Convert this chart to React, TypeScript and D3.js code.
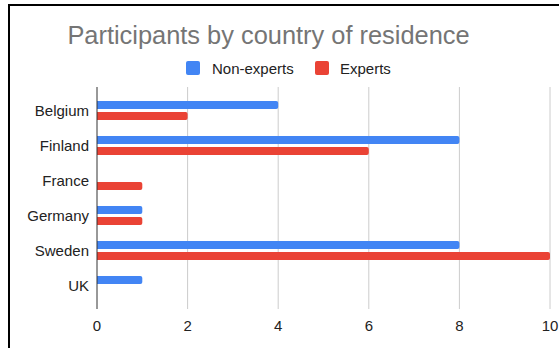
import React from "react";
import * as d3 from "d3";

const countries = ["Belgium", "Finland", "France", "Germany", "Sweden", "UK"];
const nonExperts = [4, 8, 0, 1, 8, 1];
const experts = [2, 6, 1, 1, 10, 0];
const xTicks = [0, 2, 4, 6, 8, 10];
const seriesNames = ["Non-experts", "Experts"];
const seriesColors = ["#4285F4", "#EA4335"];
const title = "Participants by country of residence";

const W = 559;
const H = 348;
const FONT = "Arial, 'Liberation Sans', sans-serif";

export default function App() {
  const x = d3.scaleLinear().domain([0, 10]).range([97, 550]);
  const y = d3.scaleBand<string>().domain(countries).range([93, 303]).paddingInner(0).paddingOuter(0);
  const gridTop = 87;
  const gridBottom = 309;
  const barH = 8;
  const gap = 3;

  const bar = (v: number, yTop: number, color: string, key: string) => {
    if (v <= 0) return null;
    const w = x(v) - x(0);
    const r = 2;
    const x0 = x(0);
    const path = `M${x0},${yTop} H${x0 + w - r} Q${x0 + w},${yTop} ${x0 + w},${yTop + r} V${yTop + barH - r} Q${x0 + w},${yTop + barH} ${x0 + w - r},${yTop + barH} H${x0} Z`;
    return <path key={key} d={path} fill={color} />;
  };

  return (
    <svg
      width={W}
      height={H}
      style={{ position: "absolute", left: 0, top: 0, display: "block", background: "#fff" }}
      fontFamily={FONT}
    >
      <rect x={0} y={0} width={W} height={H} fill="#fff" />
      {/* frame */}
      <line x1={8} x2={W} y1={5} y2={5} stroke="#000" strokeWidth={2} />
      <line x1={9} x2={9} y1={4} y2={H} stroke="#000" strokeWidth={2} />

      <text x={268.5} y={35} textAnchor="middle" dominantBaseline="central" fontSize={25.4} fill="#757575">
        {title}
      </text>

      {/* legend */}
      <rect x={186} y={61} width={14} height={14} rx={2} fill={seriesColors[0]} />
      <text x={212} y={68} dominantBaseline="central" fontSize={15} fill="#222">{seriesNames[0]}</text>
      <rect x={315} y={61} width={14} height={14} rx={2} fill={seriesColors[1]} />
      <text x={340} y={68} dominantBaseline="central" fontSize={15} fill="#222">{seriesNames[1]}</text>

      {/* grid */}
      {xTicks.map((t) =>
        t === 0 ? null : (
          <line key={"g" + t} x1={x(t)} x2={x(t)} y1={gridTop} y2={gridBottom} stroke="#ccc" strokeWidth={1} />
        )
      )}
      {xTicks.map((t) => (
        <text key={"t" + t} x={x(t)} y={325} textAnchor="middle" dominantBaseline="central" fontSize={15} fill="#222">
          {t}
        </text>
      ))}

      {/* bars */}
      {countries.map((c, i) => {
        const cy = (y(c) as number) + y.bandwidth() / 2;
        return (
          <g key={c}>
            {bar(nonExperts[i], cy - gap / 2 - barH, seriesColors[0], c + "a")}
            {bar(experts[i], cy + gap / 2, seriesColors[1], c + "b")}
            <text x={89} y={cy} textAnchor="end" dominantBaseline="central" fontSize={15} fill="#222">
              {c}
            </text>
          </g>
        );
      })}

      {/* axis line */}
      <line x1={x(0)} x2={x(0)} y1={gridTop} y2={gridBottom} stroke="#333" strokeWidth={1} />
    </svg>
  );
}
